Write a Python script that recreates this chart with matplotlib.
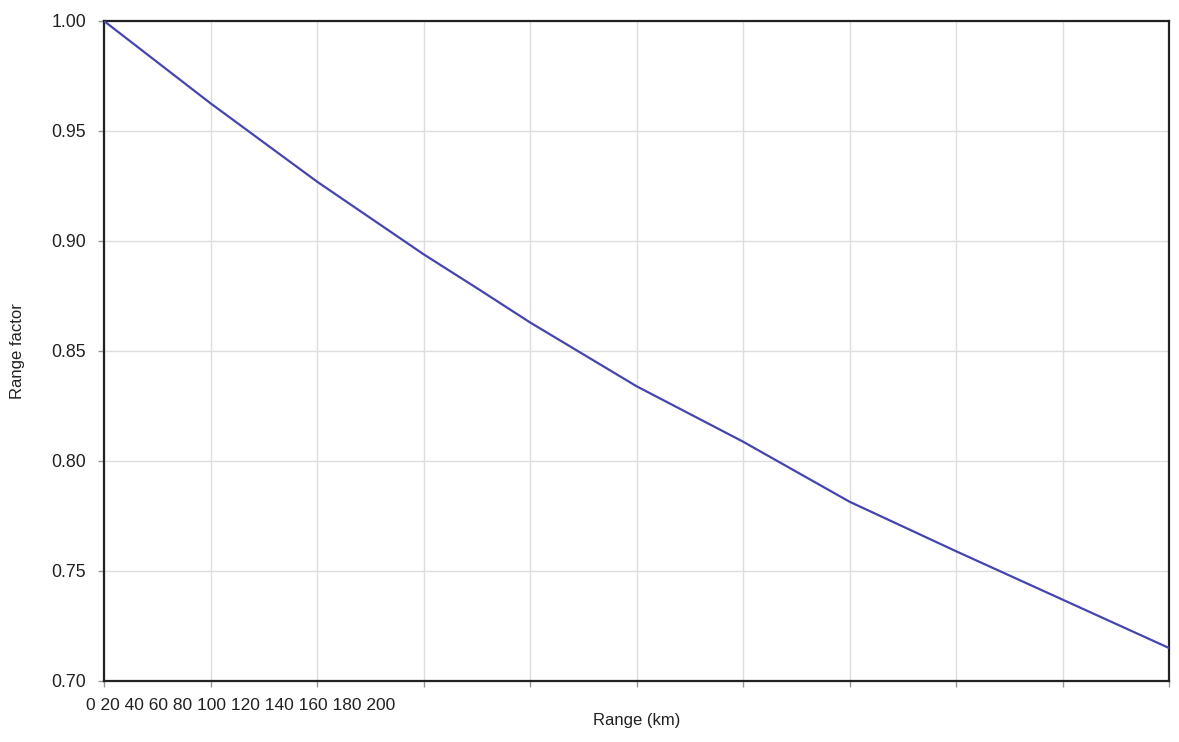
import matplotlib
matplotlib.use("Agg")
import matplotlib.pyplot as plt

# Data
range_km = [0, 20, 40, 60, 70.6, 80, 100, 120, 140, 160, 180, 200]
range_factor = [1.000, 0.9626, 0.927, 0.894, 0.8777, 0.863, 0.834, 0.8088,
                0.7815, 0.759, 0.737, 0.715]

x_ticks = [0, 20, 40, 60, 80, 100, 120, 140, 160, 180, 200]
x_tick_labels = ["0", "20", "40", "60", "80", "100", "120", "140", "160", "180", "200"]
y_ticks = [0.70, 0.75, 0.80, 0.85, 0.90, 0.95, 1.00]
y_tick_labels = ["0.70", "0.75", "0.80", "0.85", "0.90", "0.95", "1.00"]

plt.rcParams['font.family'] = ['Liberation Sans', 'DejaVu Sans']

W, H = 1179, 742
fig = plt.figure(figsize=(W / 100, H / 100), dpi=100)
ax = fig.add_axes([104 / W, 1 - 681 / H, (1169 - 104) / W, (681 - 21) / H])

ax.plot(range_km, range_factor, color='#4545b0', linewidth=1.6, zorder=3)

ax.set_xlim(0, 200)
ax.set_ylim(0.70, 1.00)
ax.set_xticks(x_ticks)
ax.set_xticklabels([""] * len(x_ticks))
ax.set_yticks(y_ticks)
ax.set_yticklabels(y_tick_labels, fontsize=12.8, color='#222222')

ax.grid(True, color='#dedede', linewidth=1.0, zorder=0)
for s in ax.spines.values():
    s.set_color('#222222')
    s.set_linewidth(1.6)
ax.tick_params(axis='both', direction='out', length=4.5, width=1.0, color='#999999')
ax.tick_params(axis='y', pad=8.5)

# crammed x tick label string as in the reference
fig.text(86 / W, 1 - 705 / H, " ".join(x_tick_labels), ha='left', va='center',
         fontsize=12.5, color='#222222')

fig.text(637 / W, 1 - 721 / H, "Range (km)", ha='center', va='center',
         fontsize=12, color='#222222')
fig.text(18 / W, 1 - 351 / H, "Range factor", ha='center', va='center',
         rotation=90, fontsize=12, color='#222222')

fig.savefig("out.png", dpi=100)
